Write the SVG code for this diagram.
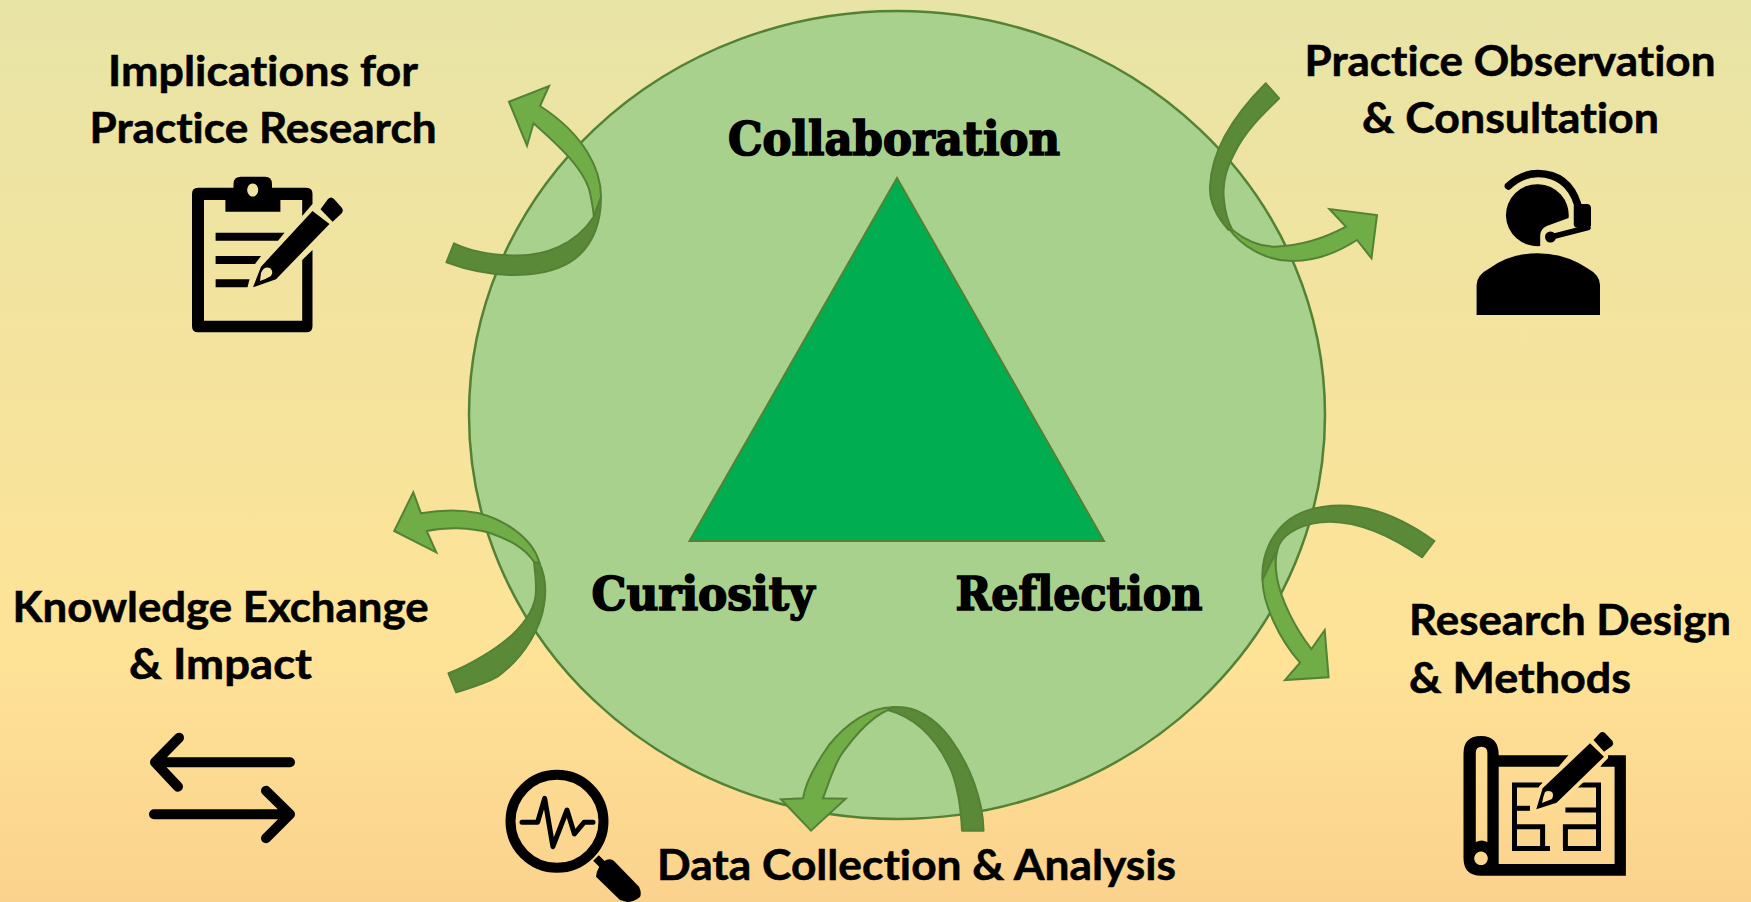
<svg xmlns="http://www.w3.org/2000/svg" width="1751" height="902" viewBox="0 0 1751 902">
<defs>
<linearGradient id="bg" x1="0" y1="0" x2="0" y2="1">
<stop offset="0" stop-color="#E8E4A6"/>
<stop offset="0.72" stop-color="#FEE397"/>
<stop offset="1" stop-color="#FBD28D"/>
</linearGradient>
</defs>
<style>
.lbl{font-family:"Lato","Noto Sans",sans-serif;font-weight:700;font-size:42px;fill:#000;stroke:#000;stroke-width:.55px;font-variant-ligatures:none}
.core{font-family:"DejaVu Serif","Liberation Serif",serif;font-weight:700;font-size:46px;fill:#000;stroke:#000;stroke-width:1.7px;font-variant-ligatures:none}
.dark{fill:#5A8A38;stroke:#548235;stroke-width:2;stroke-linejoin:round}
.light{fill:#70AD47;stroke:#548235;stroke-width:2;stroke-linejoin:miter}
.ink{fill:#000}
.line{fill:none;stroke:#000;stroke-linecap:round;stroke-linejoin:round}
</style>
<rect width="1751" height="902" fill="url(#bg)"/>
<g id="cycle-core">
<ellipse cx="897" cy="415" rx="428" ry="404" fill="#A9D18E" stroke="#548235" stroke-width="2.5"/>
<polygon points="897,178 689.5,541 1104,541" fill="#00AD50" stroke="#548235" stroke-width="2"/>
<text class="core" x="728" y="155" textLength="332" lengthAdjust="spacingAndGlyphs">Collaboration</text>
<text class="core" x="591.5" y="610" textLength="223" lengthAdjust="spacingAndGlyphs">Curiosity</text>
<text class="core" x="955.5" y="610" textLength="247" lengthAdjust="spacingAndGlyphs">Reflection</text>
</g>
<g id="connectors">
<g id="arrow-top-left">
<path class="dark" d="M454,243.3 C470,251 490,255 515,255.5 C545,256 575,245 593.8,216.7 L601,196.7 C601,222 593,245 574,259.5 C550,277 500,282 446.4,262.3 Z"/>
<path class="light" d="M601,196.7 C601,170 585,135 540,106 L549,86 L509,101.7 L527,145.7 L533.5,123.3 C558,145 586,170 590.5,195 C592,203 593.5,210 593.8,216.7 Z"/>
</g>
<g id="arrow-top-right">
<path class="dark" d="M1265.8,83.3 L1279.2,98.3 C1262,115 1246,130 1235,152 C1225,170 1222,185 1224,200 C1225,212 1228,222 1232.4,230 L1228.6,230 C1215,215 1209.5,200 1210,186.7 C1211,160 1224,125 1265.8,83.3 Z"/>
<path class="light" d="M1228.6,228 C1240,245 1265,261 1292,261 C1315,261 1337,253 1357,240 L1371.5,258.3 L1377,215 L1329.4,209 L1346,226.7 C1325,238 1300,246 1275,246.7 C1258,246.7 1245,240 1232.4,230 Z"/>
</g>
<g id="arrow-bottom-right">
<path class="dark" d="M1434.4,541 L1422,557.3 C1400,542 1365,522 1330,521.7 C1305,522 1285,532 1279,545 C1276,553 1275,565 1275.5,575 L1262.5,580 C1261,555 1272,532 1290,519 C1305,509 1322,505.5 1340.5,505.5 C1375,505.5 1408,522 1434.4,541 Z"/>
<path class="light" d="M1262.5,580 C1263,605 1280,640 1300,662.7 L1285,680 L1328.6,677.3 L1324.7,630 L1311.4,649 C1295,628 1281,600 1277,578 C1275.5,568 1275,560 1275.5,553 Z"/>
</g>
<g id="arrow-bottom">
<path class="dark" d="M983.5,830.7 L962,830.7 C961,810 957,785 951,770 C942,750 925,720 887.8,710 L892.6,707.3 C915,705 935,718 950,738 C970,765 983,800 983.5,830.7 Z"/>
<path class="light" d="M892.6,707.3 C870,707 846,724 829,745 C815,765 805,785 803,798.3 L781,799.3 L811,830.7 L845.7,798.7 L823,798.3 C828,785 833,768 841,755 C855,735 870,718 887.8,710 Z"/>
</g>
<g id="arrow-bottom-left">
<path class="dark" d="M448.5,673.3 C470,665 495,650 512,635 C528,620 536,605 536,590 C536,580 535,570 533.9,561.7 L539.6,563.3 C545,575 546.5,590 544,605 C541,625 527,655 497.5,676.7 C485,684 470,688 456.2,692.3 Z"/>
<path class="light" d="M539.6,563.3 C533,538 505,520 478,513 C458,509 440,510 421,513.3 L413.3,492.3 L394.2,531 L436.3,552.3 L426.7,531 C445,527 470,527 490,533 C510,540 525,548 533.9,561.7 Z"/>
</g>
</g>
<g id="node-implications">
<text class="lbl" x="108" y="86" textLength="310" lengthAdjust="spacingAndGlyphs">Implications for</text>
<text class="lbl" x="89.5" y="143" textLength="347" lengthAdjust="spacingAndGlyphs">Practice Research</text>
<path class="ink" fill-rule="evenodd" d="M198,187.7 H233.5 V184 Q233.5,176.7 241,176.7 H265 Q272,176.7 272,184 V187.7 H306.5 Q312.5,187.7 312.5,194 V204 L302.2,216 V200 H280.4 V211.7 H225.4 V200 H204 V320.7 H302.2 V260 L312.5,250 V326 Q312.5,332.3 306.5,332.3 H198 Q192,332.3 192,326 V194 Q192,187.7 198,187.7 Z M252.7,183.5 a5.5,6.5 0 1 0 0.01,0 Z"/>
<polygon class="ink" points="215.6,232.7 284.5,232.7 278,240.7 215.6,240.7"/>
<polygon class="ink" points="215.6,256 261,256 255,264 215.6,264"/>
<polygon class="ink" points="215.6,279.3 249.5,279.3 247.5,287.3 215.6,287.3"/>
<path class="ink" fill-rule="evenodd" d="M253,287.3 L261,266.7 L312.5,211 L329.5,224 L276,279.3 Z M261,273 Q264,266 270,268 Q274,271 271,276 Q266,279 260,281 Z"/>
<path class="ink" d="M320.5,209.3 L328,199 Q331,196 334,199 L342,208 Q344,211 341,214 L332.6,221.7 Z"/>
</g>
<g id="node-observation">
<text class="lbl" x="1304.5" y="76" textLength="411" lengthAdjust="spacingAndGlyphs">Practice Observation</text>
<text class="lbl" x="1362" y="133" textLength="297" lengthAdjust="spacingAndGlyphs">&amp; Consultation</text>
<path class="ink" d="M1476.6,315 V285 Q1476.6,275 1490,268 Q1510,253.3 1537.5,253.3 Q1565,253.3 1587,268 Q1600,275 1600,285 V315 Z"/>
<path class="ink" d="M1540.2,246 A31.4,31,0,1,1,1568.6,218 L1546.7,226 Q1540.2,229 1540.2,236 Z"/>
<path class="line" stroke-width="7.5" d="M1508.4,186 Q1522,173.5 1538,173.5 Q1568,174 1577.5,204 V224"/>
<path class="ink" d="M1578,204 H1588 Q1591,205 1591,208 V226 L1578,230 Z"/>
<path class="line" stroke-width="5.5" d="M1588,227.5 L1551,237"/>
<circle class="ink" cx="1550.5" cy="237" r="5.5"/>
</g>
<g id="node-design">
<text class="lbl" x="1409" y="635" textLength="322" lengthAdjust="spacingAndGlyphs">Research Design</text>
<text class="lbl" x="1409" y="693" textLength="222" lengthAdjust="spacingAndGlyphs">&amp; Methods</text>
<path class="ink" fill-rule="evenodd" d="M1481,736 Q1498.7,736 1498.7,755.3 H1625.9 V875.7 H1481 Q1463.5,875.7 1463.5,858 V753.5 Q1463.5,736 1481,736 Z M1481.6,746.7 Q1475.8,746.7 1475.8,753 V842 Q1481.6,839 1487.4,842 V753 Q1487.4,746.7 1481.6,746.7 Z M1481,851.5 a6.8,6.8 0 1 0 0.01,0 Z M1498.7,766.7 V864 H1614.6 V766.7 Z"/>
<polygon fill="#FDDC93" points="1558,767.5 1569,754.5 1608,754.5 1600,767.5"/>
<g class="line" stroke-width="5" style="stroke-linecap:butt;stroke-linejoin:miter">
<path d="M1542.6,785 H1514.5 V848.5 H1550"/>
<path d="M1577.7,785 H1598.5 V848.5 H1563"/>
<path d="M1514,808.3 H1530"/>
<path d="M1565.4,810 H1598"/>
<path d="M1514,826.7 H1542.6 V848"/>
<path d="M1598,826.7 H1565.4 V848"/>
</g>
<path fill="#FDDC93" stroke="#FDDC93" stroke-width="8" stroke-linejoin="round" d="M1536.3,809.3 L1542.6,788.3 L1590,743.3 L1604,756.7 L1556.6,802.7 Z"/>
<path class="ink" fill-rule="evenodd" d="M1536.3,809.3 L1542.6,788.3 L1590,743.3 L1604,756.7 L1556.6,802.7 Z M1545,792 Q1548,790 1552,792 Q1554,795 1552,799 Q1547,801 1542,803 Q1543,797 1545,792 Z"/>
<path class="ink" d="M1593.5,740 L1600,733 Q1602.5,731 1605,733 L1612.5,741 Q1614,743.5 1612,746 L1604,751.7 Z"/>
</g>
<g id="node-analysis">
<text class="lbl" x="657" y="880" textLength="519" lengthAdjust="spacingAndGlyphs">Data Collection &amp; Analysis</text>
<ellipse cx="557" cy="821.3" rx="46.5" ry="46.5" fill="none" stroke="#000" stroke-width="10"/>
<path class="line" stroke-width="5" d="M522,822.3 H537.6 L544.7,798.3 L552.9,846.7 L567,810 L574.4,834 L584,822.3 H593"/>
<path class="line" stroke-width="8" style="stroke-linecap:butt" d="M596,858 L610,872"/>
<path class="ink" d="M596,876.7 Q597,866 606,860 Q611,858 614,861 L639,886.7 Q642,893 640,897 Q634,902 627,902 L620,900 Z"/>
</g>
<g id="node-exchange">
<text class="lbl" x="12.5" y="622" textLength="416" lengthAdjust="spacingAndGlyphs">Knowledge Exchange</text>
<text class="lbl" x="129" y="679" textLength="183" lengthAdjust="spacingAndGlyphs">&amp; Impact</text>
<path class="line" stroke-width="10" d="M290,762.3 H155 M179,737.7 L155,762.3 L178,786.7"/>
<path class="line" stroke-width="10" d="M154,814.3 H289 M266,790.7 L290,814.3 L266,838.3"/>
</g>
</svg>
